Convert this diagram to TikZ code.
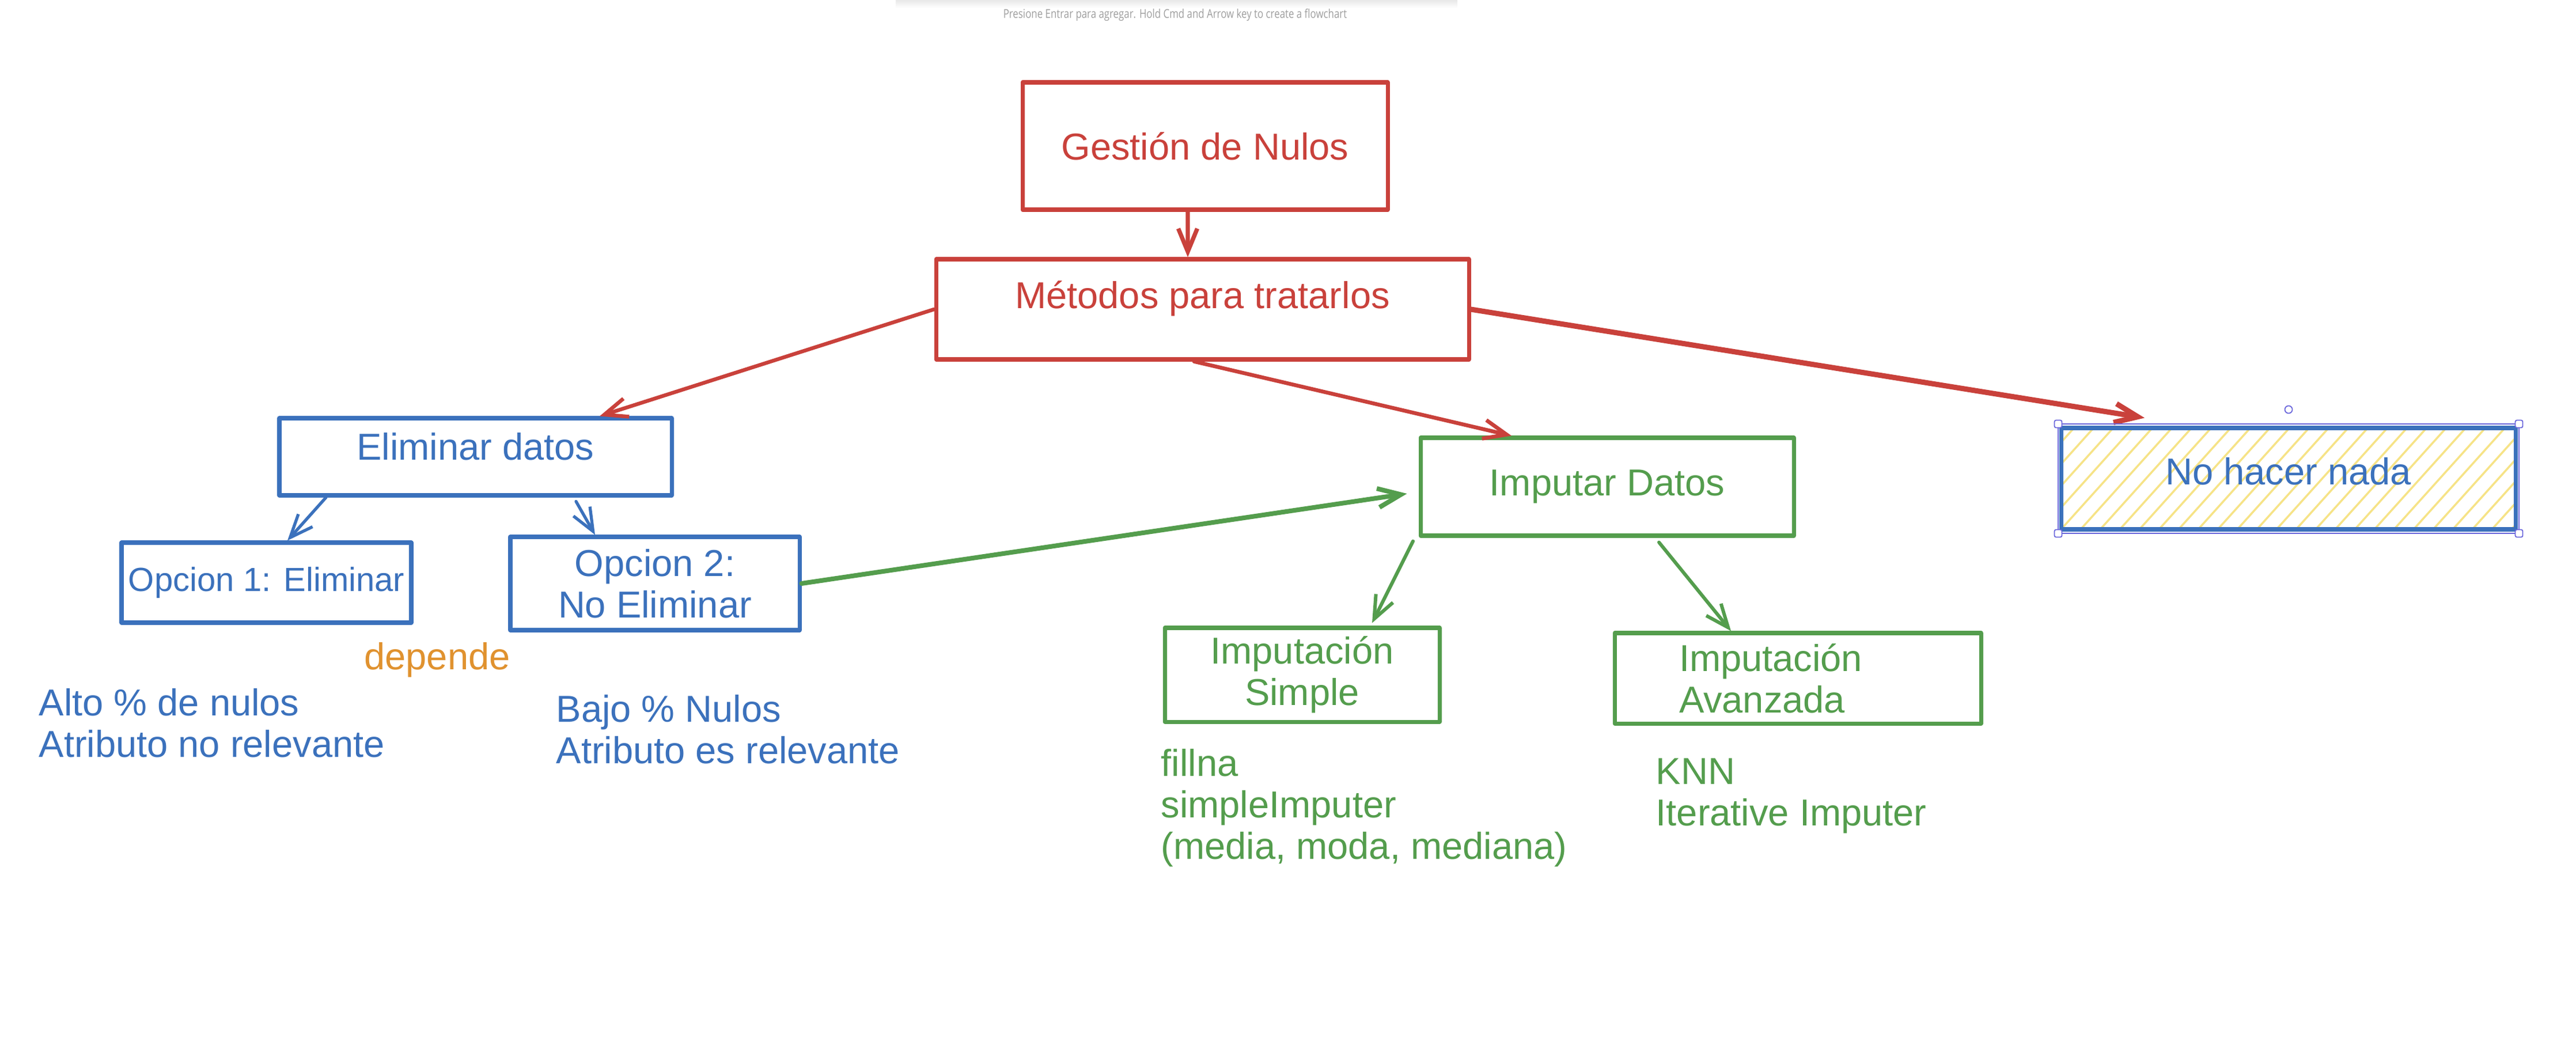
\documentclass[tikz,border=0pt]{standalone}
\usepackage{fontspec}
\setmainfont{Liberation Sans}
\newfontfamily\hintfont[FakeStretch=0.8]{Open Sans}
\usepackage{tikz}
\usetikzlibrary{arrows.meta}
\definecolor{nulred}{HTML}{C9413B}
\definecolor{nulblue}{HTML}{3B71BC}
\definecolor{nulgreen}{HTML}{549D4D}
\definecolor{nulorange}{HTML}{E0922F}
\definecolor{nulyellow}{HTML}{F6E387}
\definecolor{nulsel}{HTML}{6965DB}
\tikzset{
hand/.style={font=\fontsize{18.5}{20.5}\selectfont},
nulbox/.style={hand, draw, line width=2pt, align=center, line join=round},
nulnote/.style={hand, inner sep=0pt, anchor=west, align=left},
nularrow/.style={-{Straight Barb[length=4mm,width=3.3mm]}, line cap=round, line join=round},
hatchline/.style={nulyellow, line width=1pt},
handle/.style={draw=nulsel, fill=white, line width=0.5pt, rounded corners=0.8pt, minimum size=0.13cm, inner sep=0pt}}

\begin{document}
\begin{tikzpicture}
    \useasboundingbox (0,0) rectangle (44.72,-18.42);

                \shade[top color=black!9, bottom color=white] (15.55,0) rectangle (25.3,-0.14);
                \node[font=\hintfont\fontsize{6}{7}\selectfont, text=black!38] (hint) at (20.40,-0.26) {Presione Entrar para agregar. Hold Cmd and Arrow key to create a flowchart};

                \node[nulbox, nulred, minimum width=6.34cm, minimum height=2.21cm] (G) at (20.92,-2.535) {Gestión de Nulos};
                \node[nulbox, nulred, minimum width=9.25cm, minimum height=1.74cm, text depth=0.5cm] (M) at (20.875,-5.37) {Métodos para tratarlos};
                \node[nulbox, nulblue, minimum width=6.81cm, minimum height=1.34cm, text depth=0.36cm] (E) at (8.255,-7.93) {Eliminar datos};
                \node[nulbox, nulblue, minimum width=5.03cm, minimum height=1.39cm, inner sep=2pt, font=\fontsize{16.5}{18}\selectfont] (O1) at (4.625,-10.115) {Opcion 1: Eliminar};
                \node[nulbox, nulblue, minimum width=5.02cm, minimum height=1.62cm] (O2) at (11.37,-10.13) {Opcion 2:\\No Eliminar};
                \node[nulbox, nulgreen, minimum width=6.48cm, minimum height=1.70cm] (I) at (27.90,-8.45) {Imputar Datos};
                \node[nulbox, nulgreen, minimum width=4.77cm, minimum height=1.63cm] (IS) at (22.605,-11.715) {Imputación\\Simple};
                \node[nulbox, nulgreen, minimum width=6.36cm, minimum height=1.57cm, text width=4.12cm, align=left] (IA) at (31.21,-11.775) {Imputación\\Avanzada};
                \node[nulbox, nulblue, minimum width=7.89cm, minimum height=1.76cm, text depth=0.26cm,
                    path picture={\foreach \k in {-5,...,24} \draw[hatchline] ([xshift=\k*3.4mm]path picture bounding box.south west) -- ++(48:2.6cm);}] (N) at (39.725,-8.31) {No hacer nada};

                \node[nulnote, nulorange, anchor=center] (dep) at (7.59,-11.46) {depende};
                \node[nulnote, nulblue] (alto) at (0.67,-12.55) {Alto \% de nulos\\Atributo no relevante};
                \node[nulnote, nulblue] (bajo) at (9.65,-12.66) {Bajo \% Nulos\\Atributo es relevante};
                \node[nulnote, nulgreen] (fill) at (20.15,-14.03) {fillna\\simpleImputer\\(media, moda, mediana)};
                \node[nulnote, nulgreen] (knn) at (28.74,-13.815) {KNN\\Iterative Imputer};

                \draw[nularrow, nulred, line width=2.1pt] ([xshift=-3mm]G.south) -- ([xshift=-2.55mm]M.north);
                \draw[nularrow, nulred, line width=1.85pt] (M.west) -- ([xshift=21.55mm]E.north);
                \draw[nularrow, nulred, line width=1.9pt] ([xshift=-1.45mm]M.south) -- ([xshift=-16.6mm]I.north);
                \draw[nularrow, nulred, line width=2.6pt] (M.east) -- ([xshift=-24.95mm,yshift=1.4mm]N.north);
                \draw[nularrow, nulblue, line width=1.5pt] ([xshift=-25.95mm]E.south) -- ([xshift=3.65mm]O1.north);
                \draw[nularrow, nulblue, line width=1.5pt] ([xshift=17.45mm,yshift=-0.7mm]E.south) -- ([xshift=-10.4mm]O2.north);
                \draw[nularrow, nulgreen, line width=2.3pt] (O2.east) -- ([xshift=-2mm,yshift=-1.2mm]I.west);
                \draw[nularrow, nulgreen, line width=1.7pt] ([xshift=-33.7mm,yshift=-0.6mm]I.south) -- ([xshift=12.15mm,yshift=0.5mm]IS.north);
                \draw[nularrow, nulgreen, line width=1.7pt] ([xshift=9mm,yshift=-0.8mm]I.south) -- ([xshift=-11.6mm]IA.north);

                \draw[nulsel, line width=0.45pt] (35.73,-7.36) rectangle (43.73,-9.26);
                \foreach \p in {(35.73,-7.36),(43.73,-7.36),(35.73,-9.26),(43.73,-9.26)}
                    \node[handle] at \p {};
                \draw[nulsel, line width=0.5pt, fill=white] (39.73,-7.11) circle (0.065);

\end{tikzpicture}
\end{document}
